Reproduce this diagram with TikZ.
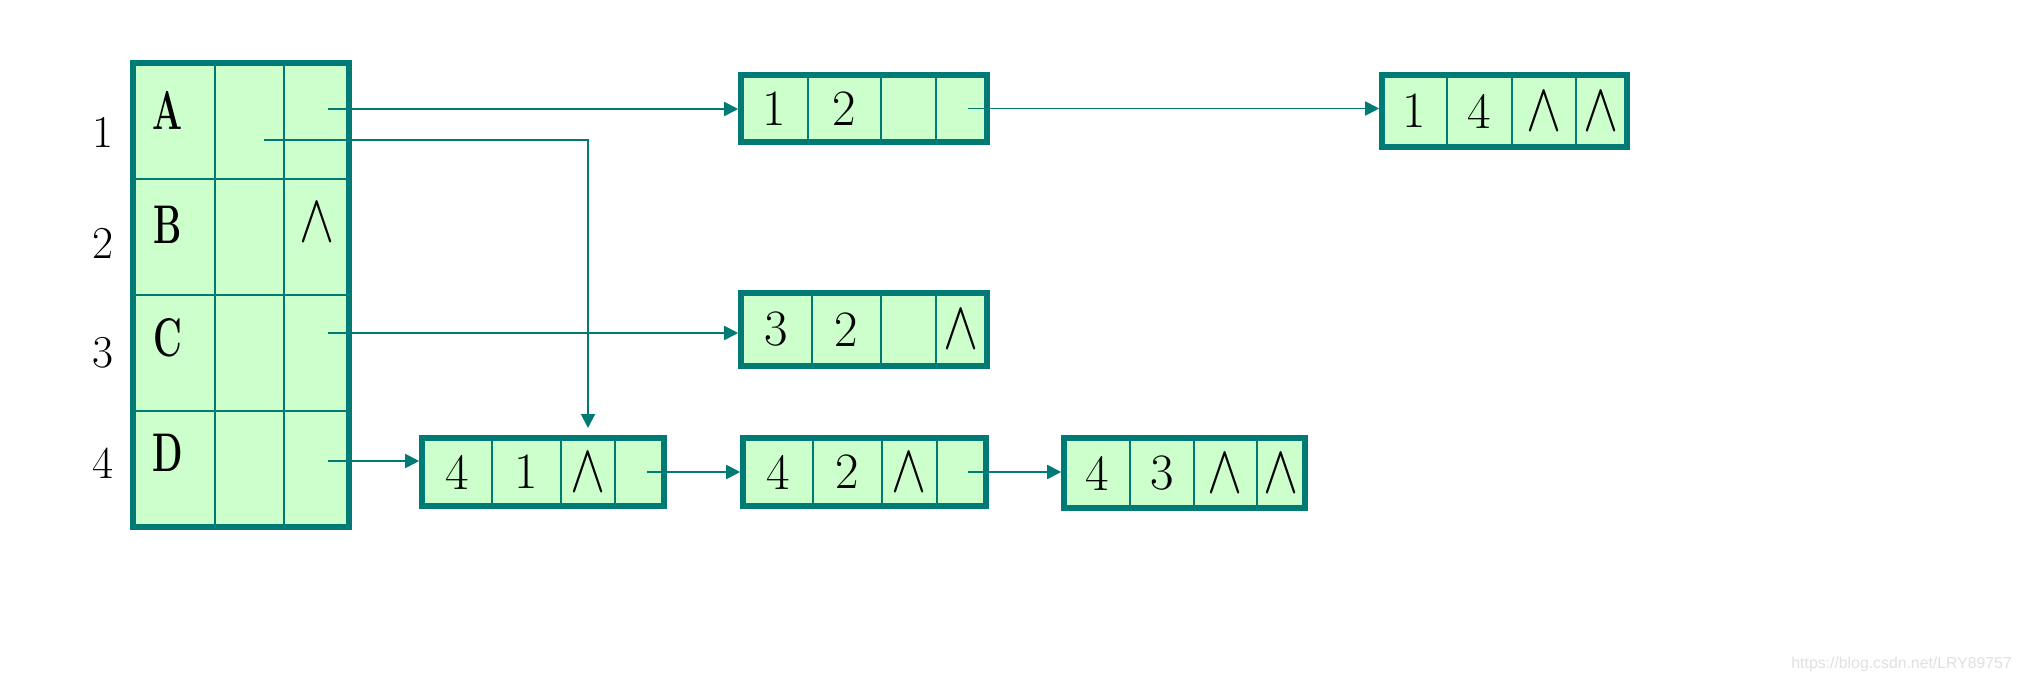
\RequirePackage{fix-cm}
\documentclass[tikz,border=0pt]{standalone}
\usepackage{fontspec}
\usepackage{tikz}
\usetikzlibrary{arrows.meta, positioning, fit}
\usepackage{graphicx}
\newfontfamily\wmfont{Liberation Sans}
\definecolor{edgeteal}{RGB}{0,122,116}
\definecolor{cellgreen}{RGB}{204,255,204}
\tikzset{
  link/.style    = {-{Triangle[length=0.28cm, width=0.28cm]}, line width=1.1pt, draw=edgeteal},
  %% cells and outer frames
  cell/.style    = {draw=edgeteal, fill=cellgreen, line width=1.3pt, inner sep=0pt, outer sep=0pt,
                    font=\fontsize{29}{32}\selectfont},
  frame/.style   = {draw=edgeteal, line width=3.2pt, inner sep=0pt, fill=none},
  keyname/.style = {font=\fontsize{31}{34}\selectfont\bfseries},
  rowno/.style   = {font=\fontsize{26}{30}\selectfont},
}
\newcommand{\nilmark}{{\fontsize{30}{34}\selectfont\scalebox{1}[1.3]{$\wedge$}}}

\begin{document}
\begin{tikzpicture}[x=0.02cm, y=-0.02cm]
\useasboundingbox (0,0) rectangle (2026,682);

%% ---- (1) Vertex table ----
\node[cell, minimum width=1.64cm, minimum height=2.32cm] (r1a) at (174,121) {};
\node[cell, minimum width=1.38cm, minimum height=2.32cm] (r1b) at (249.5,121) {};
\node[cell, minimum width=1.30cm, minimum height=2.32cm] (r1c) at (316.5,121) {};
\node[cell, minimum width=1.64cm, minimum height=2.32cm] (r2a) at (174,237) {};
\node[cell, minimum width=1.38cm, minimum height=2.32cm] (r2b) at (249.5,237) {};
\node[cell, minimum width=1.30cm, minimum height=2.32cm] (r2c) at (316.5,237) {};
\node[cell, minimum width=1.64cm, minimum height=2.32cm] (r3a) at (174,353) {};
\node[cell, minimum width=1.38cm, minimum height=2.32cm] (r3b) at (249.5,353) {};
\node[cell, minimum width=1.30cm, minimum height=2.32cm] (r3c) at (316.5,353) {};
\node[cell, minimum width=1.64cm, minimum height=2.32cm] (r4a) at (174,469) {};
\node[cell, minimum width=1.38cm, minimum height=2.32cm] (r4b) at (249.5,469) {};
\node[cell, minimum width=1.30cm, minimum height=2.32cm] (r4c) at (316.5,469) {};
\node[frame, fit=(r1a)(r4c)] (vtab) {};

%% vertex names and row numbers
\node[keyname] (kA) at (168,110) {\scalebox{0.65}[1]{A}};
\node[keyname] (kB) at (168,225) {\scalebox{0.65}[1]{B}};
\node[keyname] (kC) at (168,338) {\scalebox{0.65}[1]{C}};
\node[keyname] (kD) at (168,453) {\scalebox{0.65}[1]{D}};
\node (nB) at (317,222) {\nilmark};

\node[rowno] (n1) at (103,132) {1};
\node[rowno] (n2) at (103,243) {2};
\node[rowno] (n3) at (103,353) {3};
\node[rowno] (n4) at (103,463) {4};

%% ---- (2) Arc nodes, top row ----
\node[cell, minimum width=1.34cm, minimum height=1.34cm] (t1a) at (774.5,108.5) {1};
\node[cell, minimum width=1.46cm, minimum height=1.34cm] (t1b) at (844.5,108.5) {2};
\node[cell, minimum width=1.10cm, minimum height=1.34cm] (t1c) at (908.5,108.5) {};
\node[cell, minimum width=1.02cm, minimum height=1.34cm] (t1d) at (961.5,108.5) {};
\node[frame, fit=(t1a)(t1d)] (t1) {};

\node[cell, minimum width=1.30cm, minimum height=1.44cm] (t2a) at (1414.5,111) {1};
\node[cell, minimum width=1.30cm, minimum height=1.44cm] (t2b) at (1479.5,111) {4};
\node[cell, minimum width=1.28cm, minimum height=1.44cm] (t2c) at (1544,111) {\nilmark};
\node[cell, minimum width=1.02cm, minimum height=1.44cm] (t2d) at (1601.5,111) {\nilmark};
\node[frame, fit=(t2a)(t2d)] (t2) {};

%% ---- (3) Arc node, middle row ----
\node[cell, minimum width=1.42cm, minimum height=1.46cm] (m1a) at (776.5,329.5) {3};
\node[cell, minimum width=1.38cm, minimum height=1.46cm] (m1b) at (846.5,329.5) {2};
\node[cell, minimum width=1.10cm, minimum height=1.46cm] (m1c) at (908.5,329.5) {};
\node[cell, minimum width=1.02cm, minimum height=1.46cm] (m1d) at (961.5,329.5) {\nilmark};
\node[frame, fit=(m1a)(m1d)] (m1) {};

%% ---- (4) Arc nodes, bottom row ----
\node[cell, minimum width=1.40cm, minimum height=1.36cm] (b1a) at (457,472) {4};
\node[cell, minimum width=1.38cm, minimum height=1.36cm] (b1b) at (526.5,472) {1};
\node[cell, minimum width=1.08cm, minimum height=1.36cm] (b1c) at (588,472) {\nilmark};
\node[cell, minimum width=0.98cm, minimum height=1.36cm] (b1d) at (639.5,472) {};
\node[frame, fit=(b1a)(b1d)] (b1) {};

\node[cell, minimum width=1.40cm, minimum height=1.36cm] (b2a) at (778,472) {4};
\node[cell, minimum width=1.38cm, minimum height=1.36cm] (b2b) at (847.5,472) {2};
\node[cell, minimum width=1.10cm, minimum height=1.36cm] (b2c) at (909.5,472) {\nilmark};
\node[cell, minimum width=0.98cm, minimum height=1.36cm] (b2d) at (961.5,472) {};
\node[frame, fit=(b2a)(b2d)] (b2) {};

\node[cell, minimum width=1.32cm, minimum height=1.40cm] (b3a) at (1097,473) {4};
\node[cell, minimum width=1.28cm, minimum height=1.40cm] (b3b) at (1162,473) {3};
\node[cell, minimum width=1.26cm, minimum height=1.40cm] (b3c) at (1225.5,473) {\nilmark};
\node[cell, minimum width=0.96cm, minimum height=1.40cm] (b3d) at (1281,473) {\nilmark};
\node[frame, fit=(b3a)(b3d)] (b3) {};

%% ---- (5) Pointers ----
\coordinate (pA)  at (328,109);
\coordinate (pA2) at (264,140);
\coordinate (pC)  at (328,333);
\coordinate (pD)  at (328,461);

\draw[link] (pA) -- (pA -| t1.west);
\draw[link, shorten >=0.2cm] (pA2) -| (b1c.north);
\draw[link] (pC) -- (pC -| m1.west);
\draw[link] (pD) -- (pD -| b1.west);

\draw[link] ([xshift=0.13cm]t1d.center) -- (t1d.center -| t2.west);
\draw[link] ([xshift=0.15cm]b1d.center) -- (b1d.center -| b2.west);
\draw[link] ([xshift=0.13cm]b2d.center) -- (b2d.center -| b3.west);

%% watermark
\node[font=\wmfont\fontsize{9}{10}\selectfont, text=black!12, anchor=east] (wmark) at (2018,664)
  {https://blog.csdn.net/LRY89757};

\end{tikzpicture}
\end{document}
